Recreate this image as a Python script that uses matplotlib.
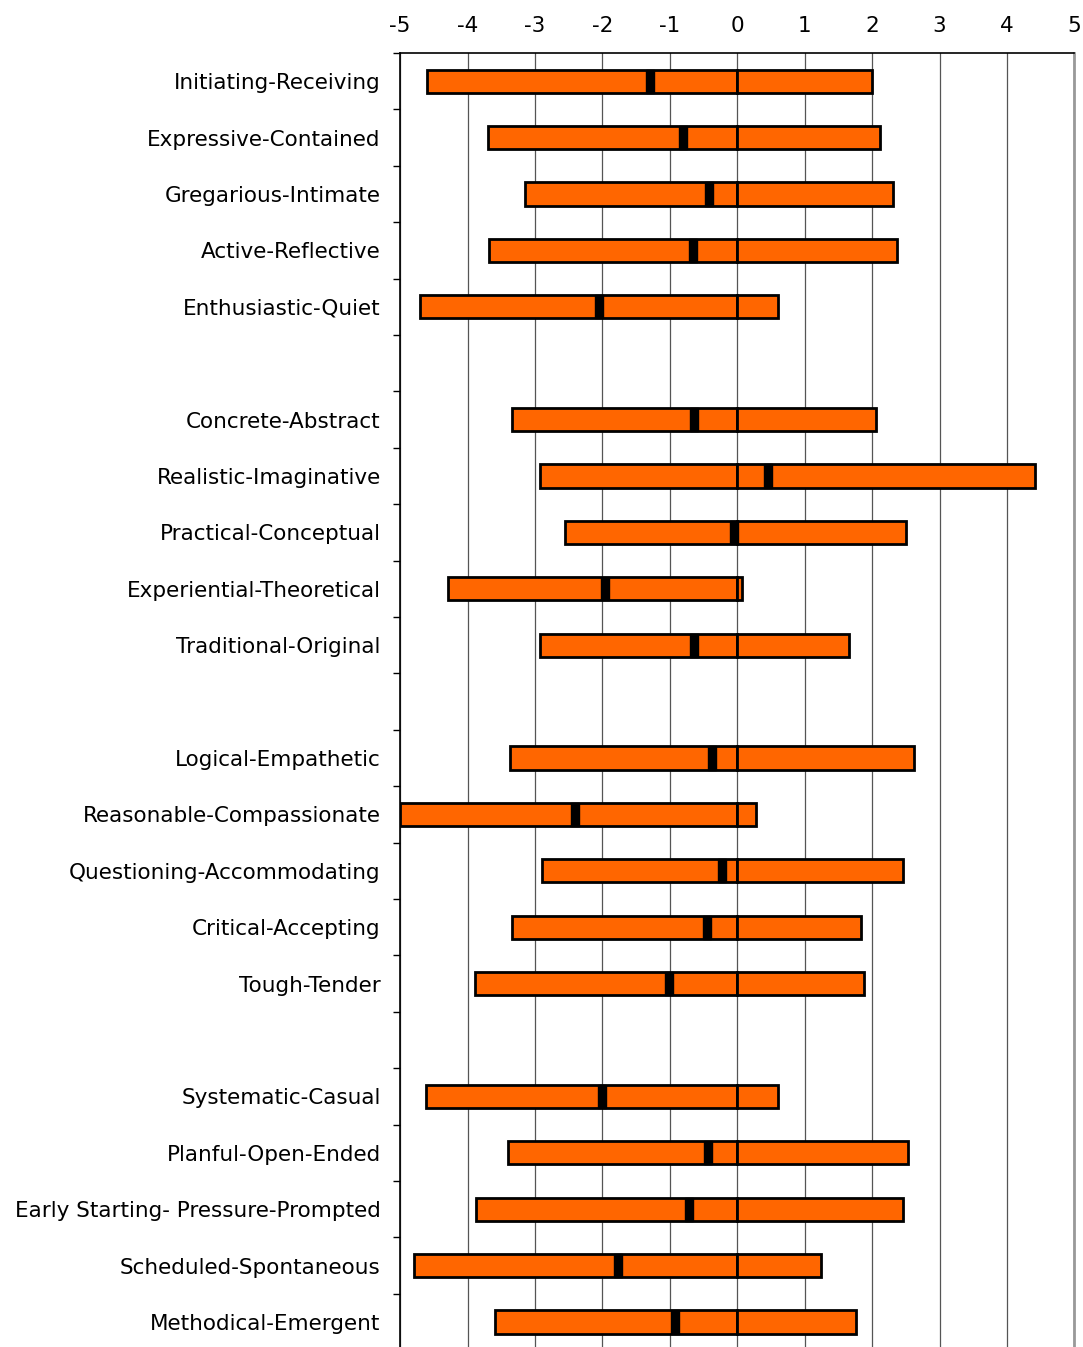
import matplotlib
matplotlib.use("Agg")
import matplotlib.pyplot as plt
import numpy as np

# scale names, top to bottom ('' = spacer row between groups)
labels = [
    "Initiating-Receiving", "Expressive-Contained", "Gregarious-Intimate",
    "Active-Reflective", "Enthusiastic-Quiet", "",
    "Concrete-Abstract", "Realistic-Imaginative", "Practical-Conceptual",
    "Experiential-Theoretical", "Traditional-Original", "",
    "Logical-Empathetic", "Reasonable-Compassionate", "Questioning-Accommodating",
    "Critical-Accepting", "Tough-Tender", "",
    "Systematic-Casual", "Planful-Open-Ended", "Early Starting- Pressure-Prompted",
    "Scheduled-Spontaneous", "Methodical-Emergent",
]
low = [-4.6, -3.7, -3.15, -3.68, -4.71, None,
       -3.34, -2.93, -2.55, -4.29, -2.92, None,
       -3.37, -5.0, -2.89, -3.34, -3.89, None,
       -4.62, -3.4, -3.88, -4.79, -3.59]
mean = [-1.29, -0.8, -0.42, -0.66, -2.05, None,
        -0.64, 0.46, -0.05, -1.96, -0.64, None,
        -0.37, -2.4, -0.22, -0.45, -1.01, None,
        -2.01, -0.44, -0.71, -1.77, -0.92]
high = [2.0, 2.11, 2.31, 2.37, 0.6, None,
        2.06, 4.41, 2.51, 0.07, 1.66, None,
        2.62, 0.28, 2.46, 1.84, 1.88, None,
        0.6, 2.53, 2.46, 1.24, 1.76]
ticks = list(range(-5, 6))

orange = "#FF6600"
fig = plt.figure(figsize=(10.83, 13.47), dpi=100)
ax = fig.add_axes([0.3695, -0.0024, 0.6225, 0.9631])

ypos = np.arange(len(labels))
h = 0.41
for y, lo, m, hi in zip(ypos, low, mean, high):
    if lo is None:
        continue
    # negative part and positive part split at zero
    ax.barh(y, 0 - lo, left=lo, height=h, color=orange, edgecolor="black",
            linewidth=2, zorder=3)
    ax.barh(y, hi - 0, left=0, height=h, color=orange, edgecolor="black",
            linewidth=2, zorder=3)
    ax.barh(y, 0.12, left=m - 0.06, height=h, color="black", edgecolor="black",
            linewidth=1, zorder=4)

ax.set_xlim(-5, 5)
ax.set_ylim(len(labels) - 0.5, -0.5)
ax.xaxis.tick_top()
ax.set_xticks(ticks)
ax.set_xticklabels([str(t) for t in ticks])
ax.tick_params(axis="x", length=0, pad=12, labelsize=15.5)
ax.grid(axis="x", color="#555555", linewidth=0.9, zorder=0)

ax.set_yticks(ypos)
ax.set_yticklabels(labels)
ax.set_yticks(np.arange(len(labels) + 1) - 0.5, minor=True)
ax.tick_params(axis="y", which="major", length=0, pad=14, labelsize=15.5)
ax.tick_params(axis="y", which="minor", length=5, width=1, direction="out")

ax.spines["left"].set_linewidth(1.2)
ax.spines["top"].set_linewidth(1.2)
ax.spines["right"].set_color("#999999")
ax.spines["right"].set_linewidth(2)
ax.spines["bottom"].set_visible(False)

fig.savefig("out.png", dpi=100)
